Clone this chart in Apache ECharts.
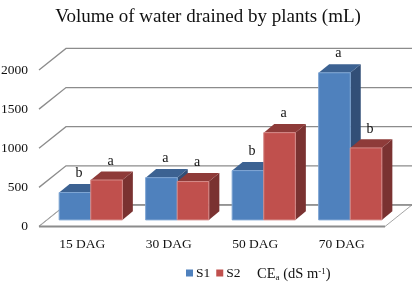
<!DOCTYPE html>
<html>
<head>
<meta charset="utf-8">
<style>html,body{margin:0;padding:0;background:#fff}#c{width:414px;height:288px}</style>
<script src="https://cdn.jsdelivr.net/npm/echarts@6/dist/echarts.min.js"></script>
</head>
<body>
<div id="c"></div>
<script>
const categories = ['15 DAG', '30 DAG', '50 DAG', '70 DAG'];
const s1Values = [350, 540, 630, 1880];
const s2Values = [510, 490, 1115, 920];
const s1Letters = ['b', 'a', 'b', 'a'];
const s2Letters = ['a', 'a', 'a', 'b'];
const yTicks = [0, 500, 1000, 1500, 2000];

const FONT = '"Liberation Serif", serif';
const BACK = [27, -21.6];
const FRONT = [8.5, -6.6];
const DEPTH = [10.5, -8.6];
const BAR_W = 31.6;

function bar(side, letters, front, edge, top, right) {
  return function (params, api) {
    const i = api.value(0);
    const base = api.coord([i, 0]);
    const tip = api.coord([i, api.value(1)]);
    const x0 = base[0] + FRONT[0] + (side < 0 ? -BAR_W : 0);
    const x1 = x0 + BAR_W;
    const y0 = base[1] + FRONT[1];
    const y1 = tip[1] + FRONT[1];
    const dx = DEPTH[0], dy = DEPTH[1];
    return {
      type: 'group',
      children: [
        { type: 'polygon', shape: { points: [[x1, y0], [x1 + dx, y0 + dy], [x1 + dx, y1 + dy], [x1, y1]] }, style: { fill: right } },
        { type: 'polygon', shape: { points: [[x0, y1], [x0 + dx, y1 + dy], [x1 + dx, y1 + dy], [x1, y1]] }, style: { fill: top } },
        { type: 'rect', shape: { x: x0, y: y1, width: BAR_W, height: y0 - y1 }, style: { fill: front, stroke: edge, lineWidth: 1 } },
        { type: 'text', style: { x: (x0 + x1) / 2 + 4, y: y1 - 19, text: letters[i], fill: '#111', font: '14px ' + FONT, textAlign: 'center', textVerticalAlign: 'middle' } }
      ]
    };
  };
}

function wall(params, api) {
  const v = api.value(0);
  const a = api.coord([0, v]);
  const band = api.size([1, 0])[0];
  const xL = a[0] - band / 2;
  const xR = xL + band * categories.length;
  const kids = [
    { type: 'polyline', shape: { points: [[xL, a[1]], [xL + BACK[0], a[1] + BACK[1]], [xR + BACK[0], a[1] + BACK[1]]] }, style: { fill: 'none', stroke: '#8c8c8c', lineWidth: 1.3 } }
  ];
  if (v === 0) {
    kids.push({ type: 'polygon', shape: { points: [[xL, a[1]], [xL + BACK[0], a[1] + BACK[1]], [xR + BACK[0], a[1] + BACK[1]], [xR, a[1]]] }, style: { fill: '#fff', stroke: '#a6a6a6', lineWidth: 1 } });
    kids.push({ type: 'line', shape: { x1: xL, y1: a[1], x2: xR, y2: a[1] }, style: { stroke: '#8c8c8c', lineWidth: 2 } });
    kids.push({ type: 'line', shape: { x1: xL + BACK[0], y1: a[1] + BACK[1], x2: xR + BACK[0], y2: a[1] + BACK[1] }, style: { stroke: '#8c8c8c', lineWidth: 1.5 } });
  }
  return { type: 'group', children: kids };
}

const chart = echarts.init(document.getElementById('c'), null, { renderer: 'canvas' });
chart.setOption({
  animation: false,
  backgroundColor: '#fff',
  title: [
    { text: 'Volume of water drained by plants (mL)', left: 203, top: 3, textAlign: 'center',
      textStyle: { fontFamily: FONT, fontSize: 19, fontWeight: 'normal', color: '#111' } },
    { text: 'CE{sub|a} (dS m{sup|-1})', left: 252, top: 262,
      textStyle: { fontFamily: FONT, fontSize: 14.5, fontWeight: 'normal', color: '#111',
        rich: {
          sub: { fontFamily: FONT, fontSize: 9, verticalAlign: 'bottom', color: '#111' },
          sup: { fontFamily: FONT, fontSize: 9, verticalAlign: 'top', color: '#111' }
        } } }
  ],
  legend: {
    data: ['S1', 'S2'], left: 186, top: 266, icon: 'rect', itemWidth: 7, itemHeight: 7, itemGap: 6,
    selectedMode: false, padding: 0,
    textStyle: { fontFamily: FONT, fontSize: 13.5, color: '#111', padding: [0, 0, 0, -2] }
  },
  grid: { left: 39, right: 29, top: 70, bottom: 61.5, outerBoundsMode: 'none' },
  xAxis: {
    type: 'category', data: categories,
    axisLine: { show: false }, axisTick: { show: false },
    axisLabel: { fontFamily: FONT, fontSize: 13.5, color: '#111', margin: 11 }
  },
  yAxis: {
    type: 'value', min: 0, max: 2000, interval: 500,
    axisLine: { show: false }, axisTick: { show: false }, splitLine: { show: false },
    axisLabel: { fontFamily: FONT, fontSize: 13.5, color: '#111', margin: 11, formatter: v => String(v) }
  },
  series: [
    { type: 'custom', name: 'walls', silent: true, clip: false, data: yTicks.map(v => [v]),
      encode: { x: -1, y: 0 }, renderItem: wall, z: 1 },
    { type: 'custom', name: 'S1', clip: false, itemStyle: { color: '#4F81BD' }, z: 2,
      data: s1Values.map((v, i) => [i, v]), encode: { x: 0, y: 1 },
      renderItem: bar(-1, s1Letters, '#4F81BD', '#7ea5d3', '#3C6292', '#324F77') },
    { type: 'custom', name: 'S2', clip: false, itemStyle: { color: '#C0504D' }, z: 3,
      data: s2Values.map((v, i) => [i, v]), encode: { x: 0, y: 1 },
      renderItem: bar(1, s2Letters, '#C0504D', '#d58a88', '#8E3B39', '#7A3231') }
  ]
});
</script>
</body>
</html>
